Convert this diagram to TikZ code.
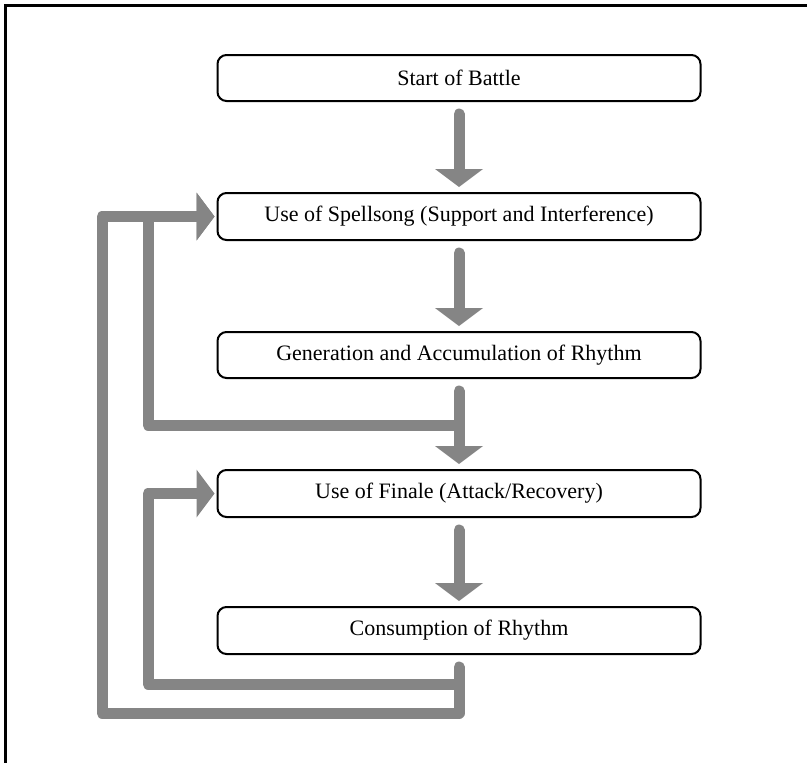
\documentclass[tikz,border=0pt]{standalone}
\usepackage{fontspec}
\setmainfont{Liberation Serif}
\usetikzlibrary{arrows.meta,calc}
\definecolor{flowgray}{RGB}{133,133,133}
\begin{document}
\begin{tikzpicture}[x=1pt,y=-1pt,
  box/.style={draw=black,line width=2pt,rounded corners=9pt,minimum width=483pt,minimum height=46pt,inner sep=0pt,font=\fontsize{22}{26}\selectfont,fill=white},
  flow/.style={draw=flowgray,line width=11pt,line join=round},
  tipd/.style={-{Triangle[length=18pt,width=48pt,line width=0pt]}}]
\useasboundingbox (0,0) rectangle (807,763);
\draw[line width=3pt] (5,763) -- (5,5.5) -- (807,5.5);

\node[box] (n1) at (459,78) {Start of Battle};
\node[box,minimum height=47pt] (n2) at (459,216.5) {Use of Spellsong (Support and Interference)};
\node[box] (n3) at (459,355) {Generation and Accumulation of Rhythm};
\node[box,minimum height=47pt] (n4) at (459,493.5) {Use of Finale (Attack/Recovery)};
\node[box,minimum height=47pt] (n5) at (459,630.5) {Consumption of Rhythm};

\coordinate (lx1) at (148,0);
\coordinate (lx2) at (102,0);
\coordinate (a3) at ($(n3.south)+(0,46)$);
\coordinate (ib) at ($(n5.south)+(0,29)$);
\coordinate (ob) at ($(n5.south)+(0,58)$);

\draw[flow,tipd,shorten >=2pt] (a3) -- (a3 -| lx1) -- (lx1 |- n2.west) -- (n2.west);
\draw[flow,line cap=round,tipd,shorten >=2pt] ($(n5.south)+(0,12)$) -- (ob) -- (ob -| lx2) -- (lx2 |- n2.west) -- (n2.west);
\draw[flow,tipd,shorten >=2pt] (ib) -- (ib -| lx1) -- (lx1 |- n4.west) -- (n4.west);

\draw[flow,line cap=round,tipd,shorten >=5pt] ($(n1.south)+(0,12)$) -- (n2.north);
\draw[flow,line cap=round,tipd,shorten >=5pt] ($(n2.south)+(0,12)$) -- (n3.north);
\draw[flow,line cap=round,tipd,shorten >=5pt] ($(n3.south)+(0,12)$) -- (n4.north);
\draw[flow,line cap=round,tipd,shorten >=5pt] ($(n4.south)+(0,12)$) -- (n5.north);
\end{tikzpicture}
\end{document}
